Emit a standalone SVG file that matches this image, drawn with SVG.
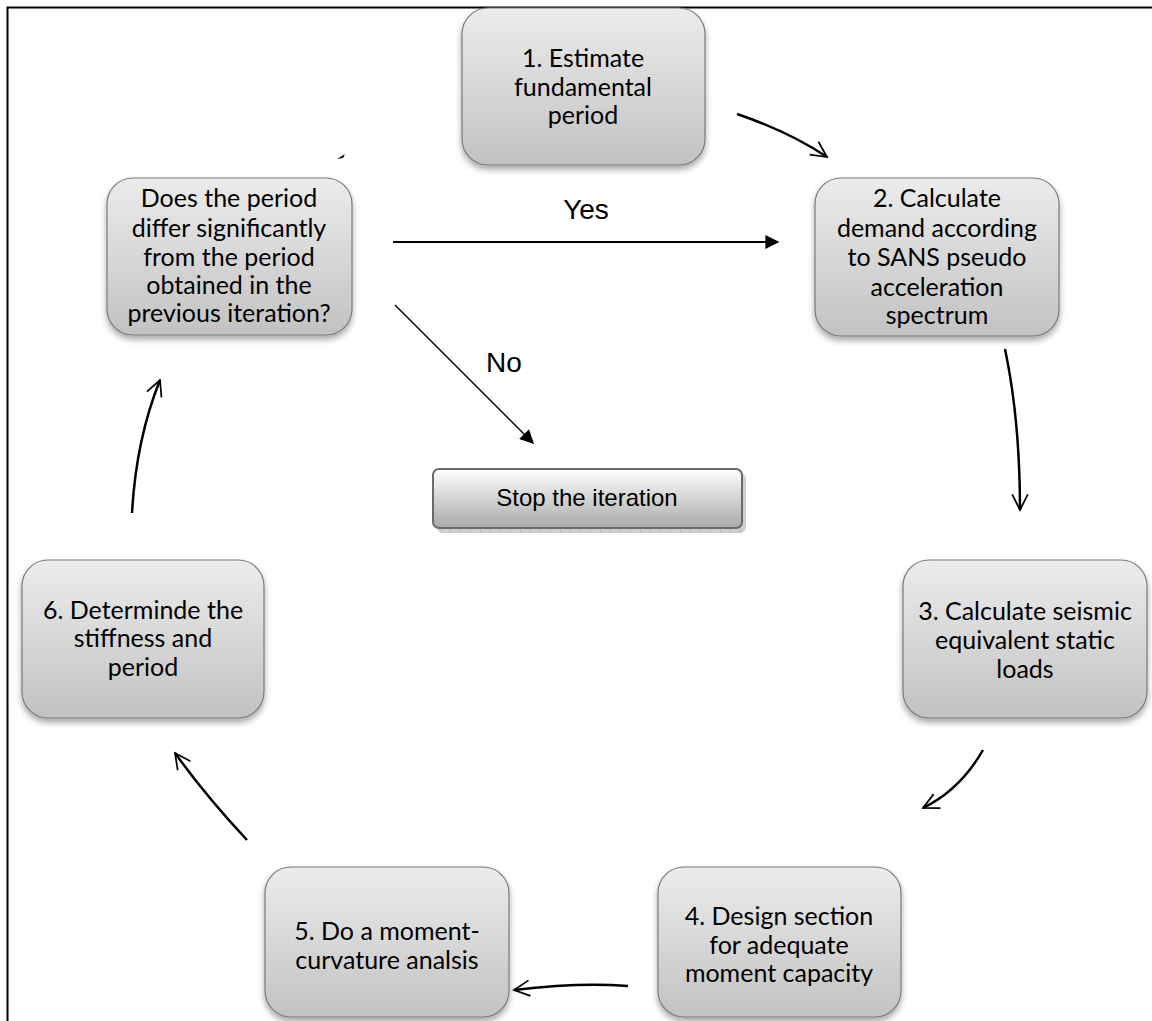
<svg xmlns="http://www.w3.org/2000/svg" width="1152" height="1021" viewBox="0 0 1152 1021">
<style>
.node rect.box{fill:url(#g);stroke:#7a7a7a;stroke-width:1.2;filter:url(#sh)}
.node text{font-family:Lato,"Open Sans",sans-serif;font-size:25px;fill:#000;text-anchor:middle}
.lbl{font-family:"Liberation Sans",Arial,sans-serif;font-size:28px;fill:#000;text-anchor:middle}
.curve{fill:none;stroke:#000;stroke-width:2.5;marker-end:url(#open)}
.straight{fill:none;stroke:#000}
</style>
<defs>
<linearGradient id="g" x1="0" y1="0" x2="0" y2="1">
<stop offset="0" stop-color="#ececec"/>
<stop offset="1" stop-color="#c2c2c2"/>
</linearGradient>
<linearGradient id="gs" x1="0" y1="0" x2="0" y2="1">
<stop offset="0" stop-color="#ffffff"/>
<stop offset="1" stop-color="#a9a9a9"/>
</linearGradient>
<filter id="sh" x="-10%" y="-10%" width="125%" height="130%">
<feDropShadow dx="0" dy="4" stdDeviation="3" flood-color="#000" flood-opacity="0.35"/>
</filter>
<pattern id="grid" width="10" height="10" patternUnits="userSpaceOnUse">
<rect width="10" height="10" fill="#cfcfcf"/>
<path d="M0,0V10" stroke="#a8a8a8" stroke-width="1"/>
</pattern>
<marker id="open" viewBox="0 0 12 12" refX="11" refY="6" markerWidth="7.5" markerHeight="7.5" orient="auto" markerUnits="strokeWidth">
<path d="M1,1 L11,6 L1,11" fill="none" stroke="#000" stroke-width="1.1"/>
</marker>
<marker id="solid" viewBox="0 0 10 10" refX="9" refY="5" markerWidth="18" markerHeight="14" orient="auto" markerUnits="userSpaceOnUse">
<path d="M0,0 L10,5 L0,10 Z" fill="#000"/>
</marker>
</defs>
<rect width="1152" height="1021" fill="#fff"/>
<path d="M7.5,1021 V7.5 H1152" fill="none" stroke="#000" stroke-width="2"/>

<g id="connectors">
<path class="curve" d="M737,114 Q790,132 827,157"/>
<path class="curve" d="M1005,349 Q1020,420 1020,510"/>
<path class="curve" d="M983,750 Q960,790 923,808"/>
<path class="curve" d="M628,986 Q580,982 514,990"/>
<path class="curve" d="M247,840 Q205,795 175,753"/>
<path class="curve" d="M132,513 Q136,440 160,380"/>
<path class="straight" d="M393,242 H778" stroke-width="2" marker-end="url(#solid)"/>
<path class="straight" d="M395,305 L533,443" stroke-width="1.5" marker-end="url(#solid)"/>
<path d="M337,159 L345,154 L343,158 Z" fill="#000"/>
<text class="lbl" x="586" y="219">Yes</text>
<text class="lbl" x="504" y="372">No</text>
</g>

<g id="n1" class="node">
<rect class="box" x="462" y="8" width="243" height="157" rx="26"/>
<text x="583" y="67">1. Estimate</text>
<text x="583" y="96">fundamental</text>
<text x="583" y="124">period</text>
</g>
<g id="n2" class="node">
<rect class="box" x="815" y="178" width="244" height="158" rx="26"/>
<text x="937" y="207">2. Calculate</text>
<text x="937" y="237">demand according</text>
<text x="937" y="266">to SANS pseudo</text>
<text x="937" y="296">acceleration</text>
<text x="937" y="324">spectrum</text>
</g>
<g id="n3" class="node">
<rect class="box" x="903" y="560" width="244" height="158" rx="26"/>
<text x="1025" y="620">3. Calculate seismic</text>
<text x="1025" y="649">equivalent static</text>
<text x="1025" y="678">loads</text>
</g>
<g id="n4" class="node">
<rect class="box" x="658" y="867" width="243" height="150" rx="26"/>
<text x="779" y="925">4. Design section</text>
<text x="779" y="954">for adequate</text>
<text x="779" y="982">moment capacity</text>
</g>
<g id="n5" class="node">
<rect class="box" x="265" y="867" width="244" height="150" rx="26"/>
<text x="387" y="940">5. Do a moment-</text>
<text x="387" y="969">curvature analsis</text>
</g>
<g id="n6" class="node">
<rect class="box" x="22" y="560" width="242" height="158" rx="26"/>
<text x="143" y="619">6. Determinde the</text>
<text x="143" y="647">stiffness and</text>
<text x="143" y="676">period</text>
</g>
<g id="decision" class="node">
<rect class="box" x="107" y="178" width="245" height="157" rx="26"/>
<text x="229" y="207">Does the period</text>
<text x="229" y="237">differ significantly</text>
<text x="229" y="266">from the period</text>
<text x="229" y="294">obtained in the</text>
<text x="229" y="322">previous iteration?</text>
</g>
<g id="stop" class="node">
<rect x="437" y="473" width="309" height="60" rx="6" fill="url(#grid)"/>
<rect x="433" y="469" width="309" height="59" rx="6" fill="url(#gs)" stroke="#6b6b6b" stroke-width="2"/>
<text x="587" y="506" style="font-family:'Liberation Sans',Arial,sans-serif;font-size:24px">Stop the iteration</text>
</g>
</svg>
